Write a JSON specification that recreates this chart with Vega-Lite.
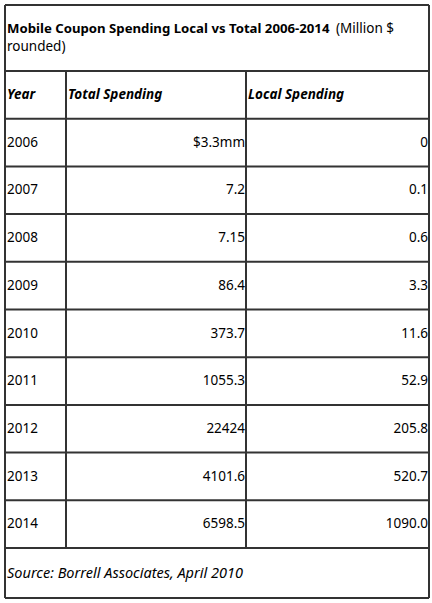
{
  "$schema": "https://vega.github.io/schema/vega-lite/v6.json",
  "description": "Mobile Coupon Spending Local vs Total 2006-2014, drawn as a table.",
  "width": 432,
  "height": 603,
  "autosize": {"type": "fit", "contains": "padding"},
  "padding": 0,
  "background": "white",
  "config": {
    "view": {"stroke": null},
    "text": {"font": "Noto Sans", "fontSize": 13.5, "color": "black", "baseline": "middle"}
  },
  "datasets": {
    "spending": [
      {"row": 2, "Year": "2006", "Total": "$3.3mm", "Local": "0"},
      {"row": 3, "Year": "2007", "Total": "7.2", "Local": "0.1"},
      {"row": 4, "Year": "2008", "Total": "7.15", "Local": "0.6"},
      {"row": 5, "Year": "2009", "Total": "86.4", "Local": "3.3"},
      {"row": 6, "Year": "2010", "Total": "373.7", "Local": "11.6"},
      {"row": 7, "Year": "2011", "Total": "1055.3", "Local": "52.9"},
      {"row": 8, "Year": "2012", "Total": "22424", "Local": "205.8"},
      {"row": 9, "Year": "2013", "Total": "4101.6", "Local": "520.7"},
      {"row": 10, "Year": "2014", "Total": "6598.5", "Local": "1090.0"}
    ],
    "hlines": [
      {"row": 0}, {"row": 1}, {"row": 2}, {"row": 3}, {"row": 4}, {"row": 5}, {"row": 6},
      {"row": 7}, {"row": 8}, {"row": 9}, {"row": 10}, {"row": 11}, {"row": 12}
    ],
    "vlines": [
      {"col": 0, "from": 0, "to": 12},
      {"col": 1, "from": 1, "to": 11},
      {"col": 2, "from": 1, "to": 11},
      {"col": 3, "from": 0, "to": 12}
    ],
    "headers": [
      {"col": 0, "text": "Year"},
      {"col": 1, "text": "Total Spending"},
      {"col": 2, "text": "Local Spending"}
    ]
  },
  "layer": [
    {
      "data": {"name": "hlines"},
      "mark": {"type": "rule", "stroke": "#333", "strokeWidth": 2},
      "encoding": {
        "y": {"field": "row", "type": "quantitative", "axis": null,
              "scale": {"domain": [0, 1, 11, 12], "range": [5, 71, 548, 598], "zero": false, "nice": false}},
        "x": {"datum": 0, "type": "quantitative", "axis": null,
              "scale": {"domain": [0, 1, 2, 3], "range": [5, 66, 246, 429], "zero": false, "nice": false}},
        "x2": {"datum": 3}
      }
    },
    {
      "data": {"name": "vlines"},
      "mark": {"type": "rule", "stroke": "#333", "strokeWidth": 2},
      "encoding": {
        "x": {"field": "col", "type": "quantitative", "axis": null},
        "y": {"field": "from", "type": "quantitative", "axis": null},
        "y2": {"field": "to"}
      }
    },
    {
      "data": {"values": [{"row": 0, "text": "Mobile Coupon Spending Local vs Total 2006-2014"}]},
      "mark": {"type": "text", "align": "left", "fontWeight": "bold", "fontSize": 13.2, "dx": 2, "dy": 24},
      "encoding": {
        "x": {"datum": 0, "type": "quantitative"},
        "y": {"field": "row", "type": "quantitative"},
        "text": {"field": "text"}
      }
    },
    {
      "data": {"values": [{"row": 0, "text": "(Million $"}]},
      "mark": {"type": "text", "align": "left", "dx": 331, "dy": 24},
      "encoding": {
        "x": {"datum": 0, "type": "quantitative"},
        "y": {"field": "row", "type": "quantitative"},
        "text": {"field": "text"}
      }
    },
    {
      "data": {"values": [{"row": 0, "text": "rounded)"}]},
      "mark": {"type": "text", "align": "left", "dx": 2, "dy": 42},
      "encoding": {
        "x": {"datum": 0, "type": "quantitative"},
        "y": {"field": "row", "type": "quantitative"},
        "text": {"field": "text"}
      }
    },
    {
      "data": {"name": "headers"},
      "mark": {"type": "text", "align": "left", "fontWeight": "bold", "fontStyle": "italic", "dx": 2, "dy": 24},
      "encoding": {
        "x": {"field": "col", "type": "quantitative"},
        "y": {"datum": 1, "type": "quantitative"},
        "text": {"field": "text"}
      }
    },
    {
      "data": {"name": "spending"},
      "mark": {"type": "text", "align": "left", "dx": 2, "dy": 24},
      "encoding": {
        "x": {"datum": 0, "type": "quantitative"},
        "y": {"field": "row", "type": "quantitative"},
        "text": {"field": "Year"}
      }
    },
    {
      "data": {"name": "spending"},
      "mark": {"type": "text", "align": "right", "dx": -1, "dy": 24},
      "encoding": {
        "x": {"datum": 2, "type": "quantitative"},
        "y": {"field": "row", "type": "quantitative"},
        "text": {"field": "Total"}
      }
    },
    {
      "data": {"name": "spending"},
      "mark": {"type": "text", "align": "right", "dx": -1, "dy": 24},
      "encoding": {
        "x": {"datum": 3, "type": "quantitative"},
        "y": {"field": "row", "type": "quantitative"},
        "text": {"field": "Local"}
      }
    },
    {
      "data": {"values": [{"row": 11, "text": "Source: Borrell Associates, April 2010"}]},
      "mark": {"type": "text", "align": "left", "fontStyle": "italic", "fontSize": 14.5, "dx": 2, "dy": 26},
      "encoding": {
        "x": {"datum": 0, "type": "quantitative"},
        "y": {"field": "row", "type": "quantitative"},
        "text": {"field": "text"}
      }
    }
  ]
}
